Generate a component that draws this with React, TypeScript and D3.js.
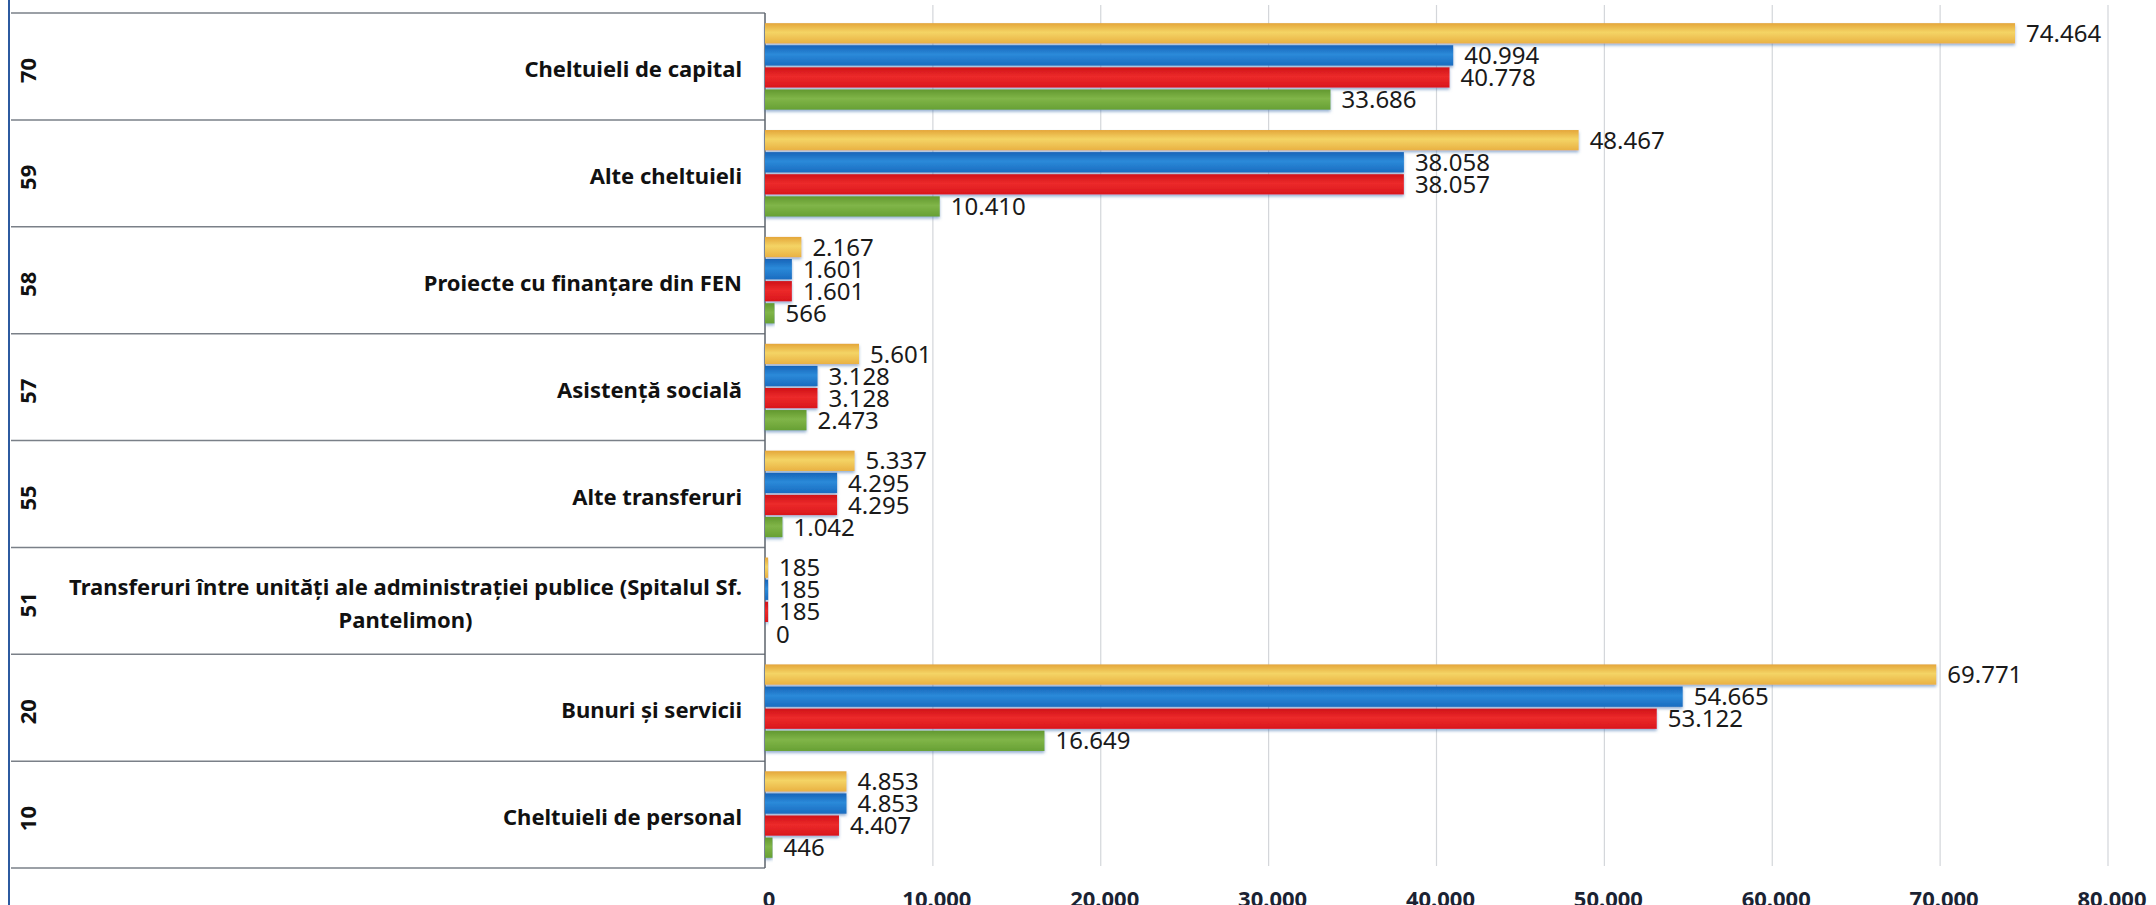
import React, { useRef, useEffect } from "react";
import * as d3 from "d3";

// category codes and names, top to bottom
const codes = ["70", "59", "58", "57", "55", "51", "20", "10"];
const categories = [
  "Cheltuieli de capital",
  "Alte cheltuieli",
  "Proiecte cu finanțare din FEN",
  "Asistență socială",
  "Alte transferuri",
  "Transferuri între unități ale administrației publice (Spitalul Sf. Pantelimon)",
  "Bunuri și servicii",
  "Cheltuieli de personal",
];

// four series, drawn top to bottom inside each group
const seriesGold = [74464, 48467, 2167, 5601, 5337, 185, 69771, 4853];
const seriesBlue = [40994, 38058, 1601, 3128, 4295, 185, 54665, 4853];
const seriesRed = [40778, 38057, 1601, 3128, 4295, 185, 53122, 4407];
const seriesGreen = [33686, 10410, 566, 2473, 1042, 0, 16649, 446];

const xTicks = [0, 10000, 20000, 30000, 40000, 50000, 60000, 70000, 80000];

const seriesKeys = ["gold", "blue", "red", "green"];
const seriesValues = [seriesGold, seriesBlue, seriesRed, seriesGreen];

const colors = {
  gold: ["#E4A63A", "#F4D465", "#E9B143"],
  blue: ["#1763B8", "#2B8AD9", "#1A6CC0"],
  red: ["#CF1218", "#EC2A2A", "#D9161C"],
  green: ["#62982F", "#80B548", "#67A034"],
};

const WIDTH = 2156;
const HEIGHT = 905;

const App = () => {
  const svgRef = useRef(null);

  useEffect(() => {
    document.body.style.margin = "0";
    document.body.style.overflow = "hidden";

    const svg = d3.select(svgRef.current);
    svg.selectAll("*").remove();

    const fontFamily = "'Noto Sans', 'Open Sans', sans-serif";
    const plotLeft = 765;
    const plotRight = 2108;
    const boxLeft = 11;

    const fmt = d3.formatLocale({
      decimal: ",",
      thousands: ".",
      grouping: [3],
      currency: ["", ""],
    }).format(",d");

    const x = d3.scaleLinear().domain([0, 80000]).range([plotLeft, plotRight]);

    const y = d3
      .scaleBand()
      .domain(categories)
      .range([13, 868])
      .paddingInner(0.19)
      .paddingOuter(0.095);

    const ySub = d3
      .scaleBand()
      .domain(seriesKeys)
      .range([0, y.bandwidth()])
      .paddingInner(0.08);

    const defs = svg.append("defs");
    Object.entries(colors).forEach(([k, c]) => {
      const g = defs
        .append("linearGradient")
        .attr("id", "grad-" + k)
        .attr("x1", 0)
        .attr("y1", 0)
        .attr("x2", 0)
        .attr("y2", 1);
      g.append("stop").attr("offset", "0%").attr("stop-color", c[0]);
      g.append("stop").attr("offset", "45%").attr("stop-color", c[1]);
      g.append("stop").attr("offset", "100%").attr("stop-color", c[2]);
    });
    const shadow = defs
      .append("filter")
      .attr("id", "barShadow")
      .attr("x", "-5%")
      .attr("y", "-30%")
      .attr("width", "110%")
      .attr("height", "170%");
    shadow
      .append("feDropShadow")
      .attr("dx", 0)
      .attr("dy", 2)
      .attr("stdDeviation", 1.4)
      .attr("flood-color", "#3f6fae")
      .attr("flood-opacity", 0.55);

    svg.append("rect").attr("width", WIDTH).attr("height", HEIGHT).attr("fill", "#fff");

    // vertical gridlines
    svg
      .append("g")
      .selectAll("line")
      .data(xTicks.slice(1))
      .join("line")
      .attr("x1", (d) => x(d))
      .attr("x2", (d) => x(d))
      .attr("y1", 5)
      .attr("y2", 866)
      .attr("stroke", "#d3d6da")
      .attr("stroke-width", 1.2);

    // tick labels (partly cut off by the bottom edge, as in the scan)
    svg
      .append("g")
      .selectAll("text")
      .data(xTicks)
      .join("text")
      .attr("x", (d) => x(d) + 4)
      .attr("y", 907)
      .attr("text-anchor", "middle")
      .attr("font-family", fontFamily)
      .attr("font-weight", "bold")
      .attr("font-size", 22)
      .attr("fill", "#1b2333")
      .text((d) => fmt(d));

    // left blue border
    svg
      .append("line")
      .attr("x1", 9)
      .attr("x2", 9)
      .attr("y1", 0)
      .attr("y2", HEIGHT)
      .attr("stroke", "#2c5aa0")
      .attr("stroke-width", 2);

    // category box separators
    const step = y.step();
    const bounds = d3.range(categories.length + 1).map((i) => y.range()[0] + i * step);
    svg
      .append("g")
      .selectAll("line")
      .data(bounds)
      .join("line")
      .attr("x1", boxLeft)
      .attr("x2", plotLeft)
      .attr("y1", (d) => d)
      .attr("y2", (d) => d)
      .attr("stroke", "#7a8088")
      .attr("stroke-width", 1.5);

    // category axis line
    svg
      .append("line")
      .attr("x1", plotLeft)
      .attr("x2", plotLeft)
      .attr("y1", bounds[0])
      .attr("y2", bounds[bounds.length - 1])
      .attr("stroke", "#5d636b")
      .attr("stroke-width", 1.5);

    // codes, rotated
    svg
      .append("g")
      .selectAll("text")
      .data(categories)
      .join("text")
      .attr("transform", (d) => `translate(28,${y(d) + y.bandwidth() / 2 + 4}) rotate(-90)`)
      .attr("text-anchor", "middle")
      .attr("dy", "0.36em")
      .attr("font-family", fontFamily)
      .attr("font-weight", "bold")
      .attr("font-size", 22)
      .attr("fill", "#111")
      .text((d, i) => codes[i]);

    // category names: right aligned block, wrapped lines centred inside it
    const labelRight = 742;
    const maxWidth = 690;
    const labels = svg.append("g");
    categories.forEach((cat) => {
      const t = labels
        .append("text")
        .attr("font-family", fontFamily)
        .attr("font-weight", "bold")
        .attr("font-size", 22)
        .attr("fill", "#111");
      const words = cat.split(" ");
      const lines = [];
      let line = [];
      words.forEach((w) => {
        const test = [...line, w].join(" ");
        t.text(test);
        if (t.node().getComputedTextLength() > maxWidth && line.length) {
          lines.push(line.join(" "));
          line = [w];
        } else {
          line = [...line, w];
        }
      });
      lines.push(line.join(" "));
      t.text(null);
      const widths = lines.map((l) => {
        t.text(l);
        return t.node().getComputedTextLength();
      });
      t.text(null);
      const blockW = d3.max(widths);
      const cx = labelRight - blockW / 2;
      const lineH = 33;
      const cy = y(cat) + y.bandwidth() / 2 + 3;
      lines.forEach((l, i) => {
        t.append("tspan")
          .attr("x", cx)
          .attr("y", cy + (i - (lines.length - 1) / 2) * lineH)
          .attr("dy", "0.35em")
          .attr("text-anchor", "middle")
          .text(l);
      });
    });

    // bars
    const groups = svg
      .append("g")
      .selectAll("g")
      .data(categories)
      .join("g")
      .attr("transform", (d) => `translate(0,${y(d)})`);

    groups
      .selectAll("rect")
      .data((d, i) => seriesKeys.map((k, s) => ({ key: k, value: seriesValues[s][i] })))
      .join("rect")
      .attr("x", x(0))
      .attr("y", (d) => ySub(d.key))
      .attr("width", (d) => x(d.value) - x(0))
      .attr("height", ySub.bandwidth())
      .attr("fill", (d) => `url(#grad-${d.key})`)
      .attr("filter", (d) => (d.value > 0 ? "url(#barShadow)" : null));

    groups
      .selectAll("text")
      .data((d, i) => seriesKeys.map((k, s) => ({ key: k, value: seriesValues[s][i] })))
      .join("text")
      .attr("x", (d) => x(d.value) + 11)
      .attr("y", (d) => ySub(d.key) + ySub.bandwidth() / 2)
      .attr("dy", "0.36em")
      .attr("font-family", fontFamily)
      .attr("font-size", 24)
      .attr("fill", "#1a1a1a")
      .text((d) => fmt(d.value));
  }, []);

  return <svg ref={svgRef} width={WIDTH} height={HEIGHT} style={{ display: "block" }}></svg>;
};

export default App;
